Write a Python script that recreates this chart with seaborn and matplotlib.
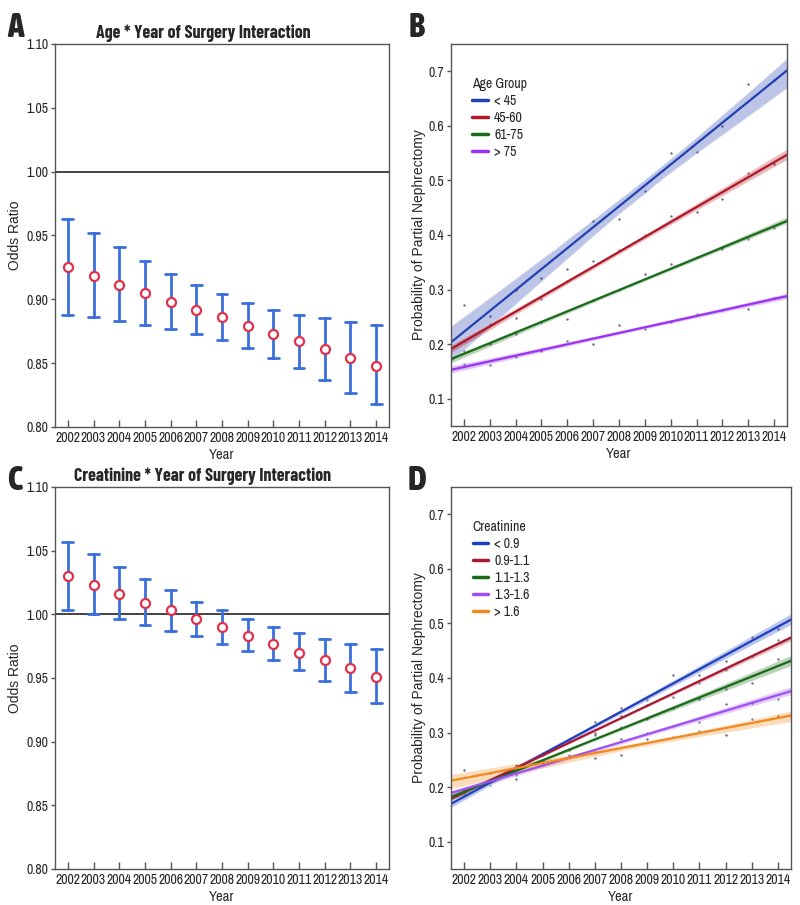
import numpy as np
import pandas as pd
import matplotlib
matplotlib.use("Agg")
import matplotlib.pyplot as plt
from matplotlib.lines import Line2D
from matplotlib.collections import PolyCollection
import seaborn as sns

# ---------------- data ----------------
years = [2002, 2003, 2004, 2005, 2006, 2007, 2008, 2009, 2010, 2011, 2012, 2013, 2014]

# Panel A: Age * Year odds ratios
age_or = [0.925, 0.918, 0.911, 0.905, 0.898, 0.892, 0.886, 0.879, 0.873, 0.867, 0.861, 0.854, 0.848]
age_lo = [0.888, 0.886, 0.883, 0.880, 0.877, 0.873, 0.868, 0.862, 0.854, 0.846, 0.837, 0.827, 0.818]
age_hi = [0.963, 0.952, 0.941, 0.930, 0.920, 0.911, 0.904, 0.897, 0.892, 0.888, 0.885, 0.882, 0.880]

# Panel C: Creatinine * Year odds ratios
cre_or = [1.030, 1.023, 1.016, 1.009, 1.003, 0.996, 0.990, 0.983, 0.977, 0.970, 0.964, 0.958, 0.951]
cre_lo = [1.003, 1.000, 0.996, 0.992, 0.987, 0.983, 0.977, 0.971, 0.964, 0.956, 0.948, 0.939, 0.930]
cre_hi = [1.057, 1.047, 1.037, 1.028, 1.019, 1.010, 1.003, 0.996, 0.990, 0.985, 0.981, 0.977, 0.973]

# Panel B: observed probability by age group
age_groups = ["< 45", "45-60", "61-75", "> 75"]
age_lt45 = [0.272, 0.251, 0.300, 0.321, 0.338, 0.426, 0.430, 0.480, 0.551, 0.552, 0.600, 0.677, 0.684]
age_45_60 = [0.205, 0.236, 0.247, 0.283, 0.315, 0.352, 0.372, 0.400, 0.435, 0.442, 0.466, 0.514, 0.530]
age_61_75 = [0.188, 0.200, 0.219, 0.240, 0.246, 0.280, 0.300, 0.328, 0.347, 0.360, 0.375, 0.392, 0.413]
age_gt75 = [0.163, 0.162, 0.176, 0.188, 0.205, 0.201, 0.235, 0.228, 0.241, 0.255, 0.262, 0.265, 0.285]
age_colors = ["#2340b0", "#b01828", "#1a6a1a", "#9933f0"]

# Panel D: observed probability by creatinine group
cre_groups = ["< 0.9", "0.9-1.1", "1.1-1.3", "1.3-1.6", "> 1.6"]
cre_lt09 = [0.185, 0.203, 0.225, 0.262, 0.288, 0.320, 0.345, 0.360, 0.405, 0.405, 0.432, 0.476, 0.490]
cre_09_11 = [0.190, 0.212, 0.240, 0.258, 0.282, 0.300, 0.330, 0.350, 0.365, 0.390, 0.415, 0.440, 0.470]
cre_11_13 = [0.195, 0.210, 0.222, 0.250, 0.268, 0.295, 0.310, 0.325, 0.345, 0.362, 0.380, 0.390, 0.435]
cre_13_16 = [0.195, 0.213, 0.225, 0.242, 0.256, 0.253, 0.288, 0.300, 0.312, 0.320, 0.352, 0.355, 0.362]
cre_gt16 = [0.232, 0.225, 0.214, 0.246, 0.258, 0.265, 0.258, 0.288, 0.292, 0.302, 0.295, 0.325, 0.330]
cre_colors = ["#1f3fc0", "#a81830", "#1a6a1a", "#a050f0", "#f08a20"]

or_ticks = [0.80, 0.85, 0.90, 0.95, 1.00, 1.05, 1.10]
prob_ticks = [0.1, 0.2, 0.3, 0.4, 0.5, 0.6, 0.7]

# ---------------- style ----------------
sns.set_theme(style="white")
NARROW = ["Archivo Narrow", "Barlow Condensed", "DejaVu Sans"]
WIDE = ["Liberation Sans", "DejaVu Sans"]
TITLEF = ["Barlow Condensed", "Asap Condensed", "DejaVu Sans"]
plt.rcParams["font.family"] = NARROW
plt.rcParams["axes.edgecolor"] = "#555555"
plt.rcParams["axes.linewidth"] = 1.0

fig = plt.figure(figsize=(8.0, 9.05), dpi=100)
axA = fig.add_axes([0.06875, 0.5282, 0.4175, 0.4232])
axB = fig.add_axes([0.56375, 0.5293, 0.4200, 0.4221])
axC = fig.add_axes([0.06875, 0.0398, 0.4175, 0.4221])
axD = fig.add_axes([0.56375, 0.0398, 0.4250, 0.4221])

ERR_BLUE = "#3b6fdc"
PT_RED = "#e0304c"


def or_panel(ax, center, lo, hi, title):
    df = pd.DataFrame({
        "Year": years * 3,
        "OR": list(lo) + list(center) + list(hi),
    })
    sns.pointplot(data=df, x="Year", y="OR", estimator=np.median,
                  errorbar=("pi", 100), capsize=0.42, color=PT_RED,
                  markers="o", linestyle="none", markersize=6.5,
                  markerfacecolor="white", markeredgecolor=PT_RED,
                  markeredgewidth=1.6, zorder=5,
                  err_kws={"color": ERR_BLUE, "linewidth": 2.0, "zorder": 2},
                  ax=ax)
    ax.axhline(1.0, color="#222222", linewidth=1.2, zorder=1)
    ax.set_xlim(-0.5, len(years) - 0.5)
    ax.set_ylim(0.80, 1.10)
    ax.set_yticks(or_ticks)
    ax.set_yticklabels([f"{t:.2f}" for t in or_ticks])
    ax.set_xticks(range(len(years)))
    ax.set_xticklabels([str(y) for y in years])
    ax.set_ylabel("Odds Ratio", family=WIDE, fontsize=10, labelpad=3)
    ax.set_xlabel("Year", fontsize=10.5, labelpad=2)
    ax.set_title(title, fontsize=13, fontweight="bold", family=TITLEF,
                 x=0.443, pad=4)


def prob_panel(ax, series, names, colors, legend_title):
    for vals, name, col in zip(series, names, colors):
        df = pd.DataFrame({"Year": years, "Prob": vals})
        sns.regplot(data=df, x="Year", y="Prob", ax=ax, color=col,
                    truncate=False, seed=3, n_boot=1000,
                    scatter_kws={"s": 3, "color": "#444466", "linewidths": 0},
                    line_kws={"linewidth": 1.6})
    for coll in ax.collections:
        if isinstance(coll, PolyCollection):
            coll.set_alpha(0.3)
    ax.set_xlim(2001.5, 2014.5)
    ax.set_ylim(0.05, 0.75)
    ax.set_yticks(prob_ticks)
    ax.set_yticklabels([f"{t:.1f}" for t in prob_ticks])
    ax.set_xticks(years)
    ax.set_xticklabels([str(y) for y in years])
    ax.set_ylabel("Probability of Partial Nephrectomy", family=WIDE,
                  fontsize=10, labelpad=2)
    ax.set_xlabel("Year", fontsize=10.5, labelpad=2)
    handles = [Line2D([0], [0], color=c, lw=2.5) for c in colors]
    ax.legend(handles, names, title=legend_title, loc="upper left",
              bbox_to_anchor=(0.035, 0.94), frameon=False, fontsize=10,
              title_fontsize=10, handlelength=1.1, handletextpad=0.45,
              labelspacing=0.22, alignment="left", borderaxespad=0.3)


or_panel(axA, age_or, age_lo, age_hi, "Age * Year of Surgery Interaction")
or_panel(axC, cre_or, cre_lo, cre_hi, "Creatinine * Year of Surgery Interaction")
prob_panel(axB, [age_lt45, age_45_60, age_61_75, age_gt75], age_groups,
           age_colors, "Age Group")
prob_panel(axD, [cre_lt09, cre_09_11, cre_11_13, cre_13_16, cre_gt16],
           cre_groups, cre_colors, "Creatinine")

for ax in (axA, axB, axC, axD):
    for s in ax.spines.values():
        s.set_visible(True)
        s.set_color("#555555")
    ax.tick_params(axis="x", which="both", direction="in", length=5,
                   width=1, color="#555555", labelsize=10, pad=3,
                   bottom=True)
    ax.tick_params(axis="y", which="both", direction="out", length=3,
                   width=1, color="#555555", labelsize=10, pad=2,
                   left=True)
    ax.grid(False)

for letter, (x, y) in zip("ABCD", [(0.009, 0.959), (0.511, 0.959),
                                   (0.009, 0.4586), (0.509, 0.4586)]):
    fig.text(x, y, letter, fontsize=24, fontweight="heavy",
             family=["Asap Condensed", "Liberation Sans", "DejaVu Sans"],
             va="baseline")

fig.savefig("out.png", dpi=100)
